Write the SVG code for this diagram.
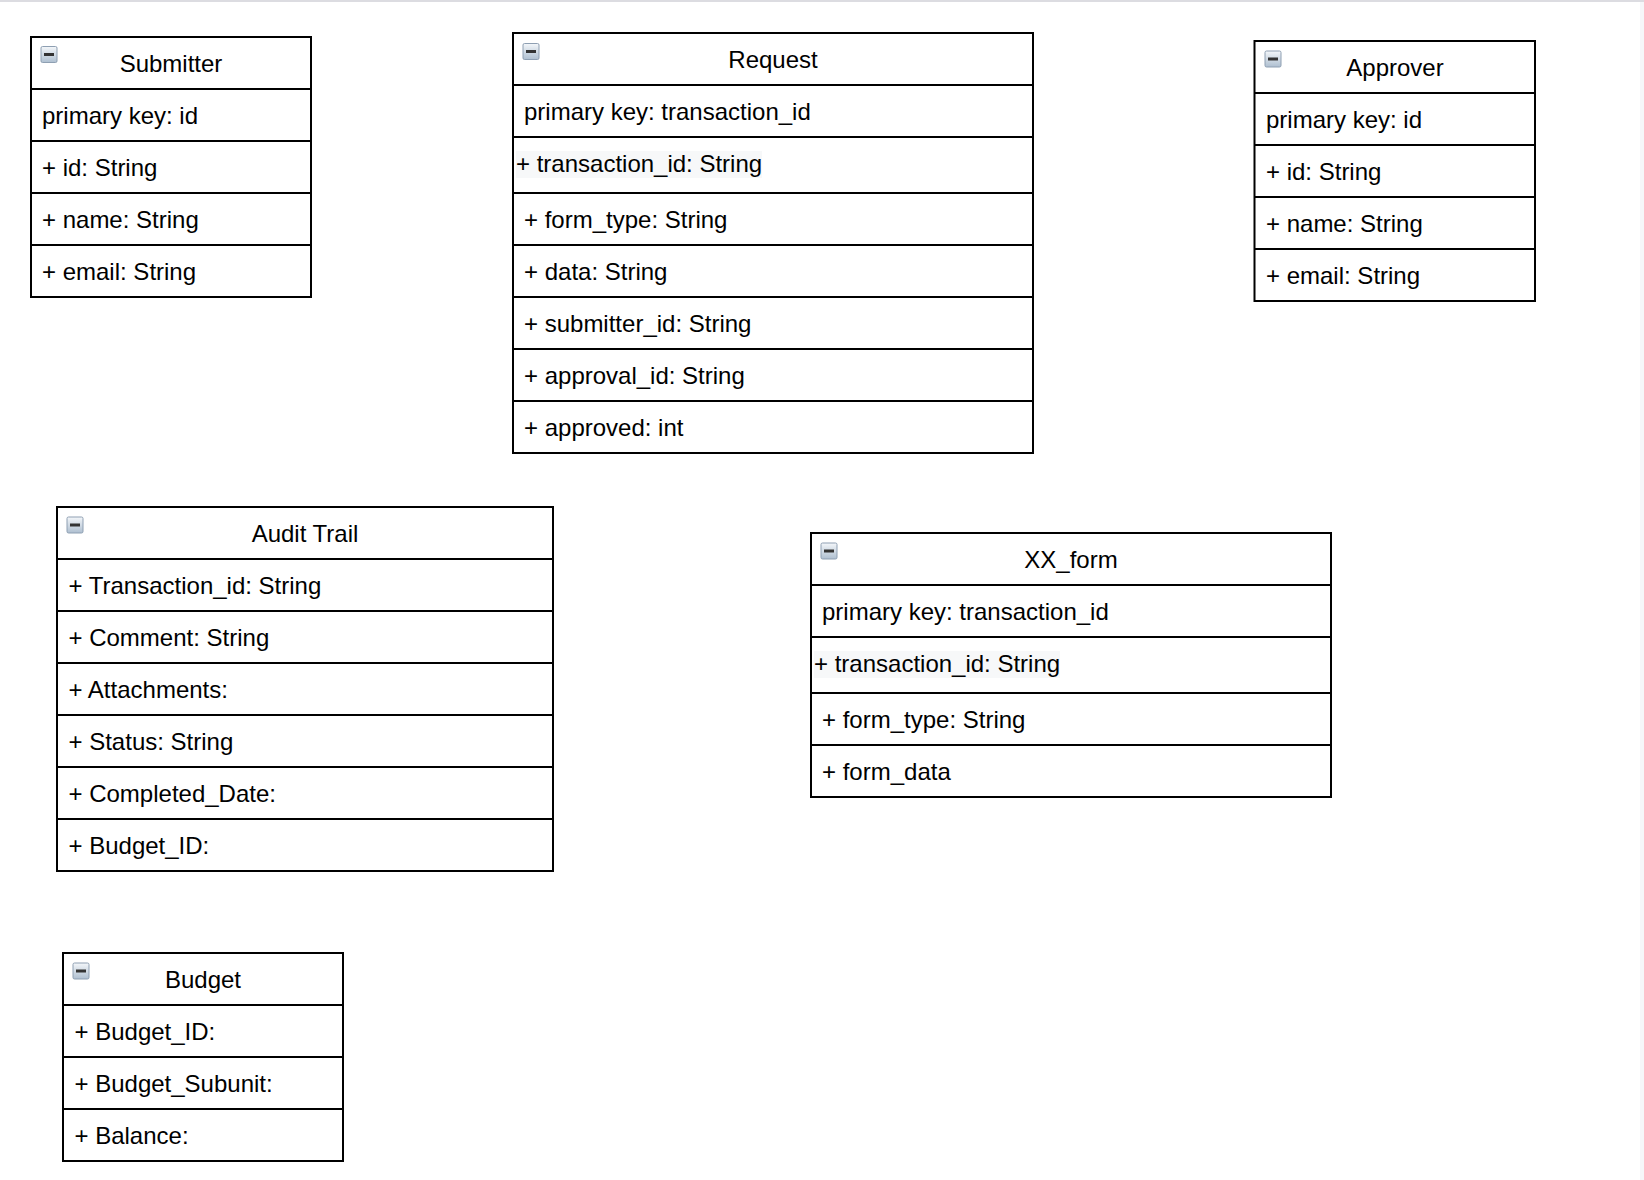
<svg xmlns="http://www.w3.org/2000/svg" width="1644" height="1180" viewBox="0 0 1644 1180">
<style>
.box{fill:#fff;stroke:#000;stroke-width:2}
.sep{stroke:#000;stroke-width:2}
.t{font-family:"Liberation Sans",Arial,Helvetica,sans-serif;font-size:24px;fill:#000}
.title{text-anchor:middle}
.hl{fill:#f7f8f9}
</style>
<defs>
<linearGradient id="ig" x1="0" y1="0" x2="0" y2="1">
<stop offset="0" stop-color="#f4f7fa"/>
<stop offset="1" stop-color="#aebfd0"/>
</linearGradient>
<symbol id="collapse" viewBox="0 0 17 17" overflow="visible">
<rect x="0.5" y="0.5" width="16" height="16" rx="1.5" fill="url(#ig)" stroke="#8e9fb2" stroke-width="1"/>
<rect x="3.5" y="7" width="10" height="3" fill="#333"/>
</symbol>
</defs>
<rect x="0" y="0" width="1644" height="2" fill="#dcdce1"/>
<rect x="1640" y="2" width="4" height="1178" fill="#f6f7f9"/>

<g id="submitter">
<rect class="box" x="31" y="37" width="280" height="260"/>
<line class="sep" x1="31" y1="89" x2="311" y2="89"/>
<line class="sep" x1="31" y1="141" x2="311" y2="141"/>
<line class="sep" x1="31" y1="193" x2="311" y2="193"/>
<line class="sep" x1="31" y1="245" x2="311" y2="245"/>
<use href="#collapse" x="40.5" y="46" width="17" height="17"/>
<text class="t title" x="171" y="71.5">Submitter</text>
<text class="t" x="42" y="123.5">primary key: id</text>
<text class="t" x="42" y="175.5">+ id: String</text>
<text class="t" x="42" y="227.5">+ name: String</text>
<text class="t" x="42" y="279.5">+ email: String</text>
</g>

<g id="request">
<rect class="box" x="513" y="33" width="520" height="420"/>
<line class="sep" x1="513" y1="85" x2="1033" y2="85"/>
<line class="sep" x1="513" y1="137" x2="1033" y2="137"/>
<line class="sep" x1="513" y1="193" x2="1033" y2="193"/>
<line class="sep" x1="513" y1="245" x2="1033" y2="245"/>
<line class="sep" x1="513" y1="297" x2="1033" y2="297"/>
<line class="sep" x1="513" y1="349" x2="1033" y2="349"/>
<line class="sep" x1="513" y1="401" x2="1033" y2="401"/>
<use href="#collapse" x="522.5" y="43" width="17" height="17"/>
<text class="t title" x="773" y="67.5">Request</text>
<text class="t" x="524" y="119.5">primary key: transaction_id</text>
<rect class="hl" x="516" y="151" width="246" height="27"/>
<text class="t" x="516" y="172">+ transaction_id: String</text>
<text class="t" x="524" y="227.5">+ form_type: String</text>
<text class="t" x="524" y="279.5">+ data: String</text>
<text class="t" x="524" y="331.5">+ submitter_id: String</text>
<text class="t" x="524" y="383.5">+ approval_id: String</text>
<text class="t" x="524" y="435.5">+ approved: int</text>
</g>

<g id="approver">
<rect class="box" x="1254.5" y="41" width="280.5" height="260"/>
<line class="sep" x1="1254.5" y1="93" x2="1535" y2="93"/>
<line class="sep" x1="1254.5" y1="145" x2="1535" y2="145"/>
<line class="sep" x1="1254.5" y1="197" x2="1535" y2="197"/>
<line class="sep" x1="1254.5" y1="249" x2="1535" y2="249"/>
<use href="#collapse" x="1264.5" y="50.5" width="17" height="17"/>
<text class="t title" x="1395" y="75.5">Approver</text>
<text class="t" x="1266" y="127.5">primary key: id</text>
<text class="t" x="1266" y="179.5">+ id: String</text>
<text class="t" x="1266" y="231.5">+ name: String</text>
<text class="t" x="1266" y="283.5">+ email: String</text>
</g>

<g id="audit-trail">
<rect class="box" x="57" y="507" width="496" height="364"/>
<line class="sep" x1="57" y1="559" x2="553" y2="559"/>
<line class="sep" x1="57" y1="611" x2="553" y2="611"/>
<line class="sep" x1="57" y1="663" x2="553" y2="663"/>
<line class="sep" x1="57" y1="715" x2="553" y2="715"/>
<line class="sep" x1="57" y1="767" x2="553" y2="767"/>
<line class="sep" x1="57" y1="819" x2="553" y2="819"/>
<use href="#collapse" x="66.5" y="516.5" width="17" height="17"/>
<text class="t title" x="305" y="541.5">Audit Trail</text>
<text class="t" x="68.5" y="593.5">+ Transaction_id: String</text>
<text class="t" x="68.5" y="645.5">+ Comment: String</text>
<text class="t" x="68.5" y="697.5">+ Attachments:</text>
<text class="t" x="68.5" y="749.5">+ Status: String</text>
<text class="t" x="68.5" y="801.5">+ Completed_Date:</text>
<text class="t" x="68.5" y="853.5">+ Budget_ID:</text>
</g>

<g id="xx-form">
<rect class="box" x="811" y="533" width="520" height="264"/>
<line class="sep" x1="811" y1="585" x2="1331" y2="585"/>
<line class="sep" x1="811" y1="637" x2="1331" y2="637"/>
<line class="sep" x1="811" y1="693" x2="1331" y2="693"/>
<line class="sep" x1="811" y1="745" x2="1331" y2="745"/>
<use href="#collapse" x="820.5" y="542.5" width="17" height="17"/>
<text class="t title" x="1071" y="567.5">XX_form</text>
<text class="t" x="822" y="619.5">primary key: transaction_id</text>
<rect class="hl" x="814" y="651" width="246" height="27"/>
<text class="t" x="814" y="672">+ transaction_id: String</text>
<text class="t" x="822" y="727.5">+ form_type: String</text>
<text class="t" x="822" y="779.5">+ form_data</text>
</g>

<g id="budget">
<rect class="box" x="63" y="953" width="280" height="208"/>
<line class="sep" x1="63" y1="1005" x2="343" y2="1005"/>
<line class="sep" x1="63" y1="1057" x2="343" y2="1057"/>
<line class="sep" x1="63" y1="1109" x2="343" y2="1109"/>
<use href="#collapse" x="72.5" y="962.5" width="17" height="17"/>
<text class="t title" x="203" y="987.5">Budget</text>
<text class="t" x="74.5" y="1039.5">+ Budget_ID:</text>
<text class="t" x="74.5" y="1091.5">+ Budget_Subunit:</text>
<text class="t" x="74.5" y="1143.5">+ Balance:</text>
</g>

<g id="connectors"></g>
</svg>
